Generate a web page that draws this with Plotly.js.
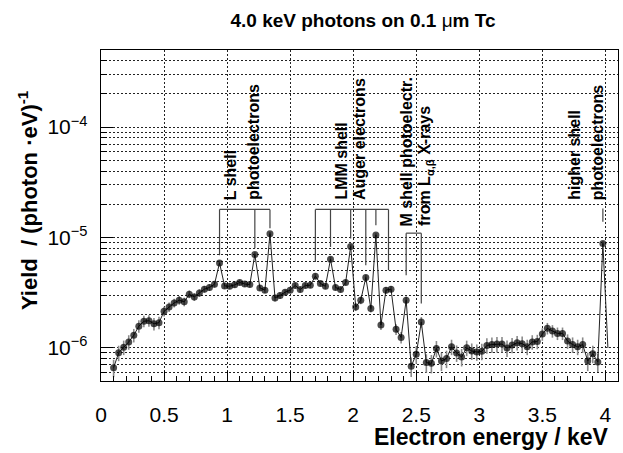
<!DOCTYPE html>
<html>
<head>
<meta charset="utf-8">
<script src="https://cdn.plot.ly/plotly-3.0.1.min.js"></script>
<style>html,body{margin:0;padding:0;background:#fff;}#chart{width:623px;height:453px;}</style>
</head>
<body>
<div id="chart"></div>
<script>
// Bin centres (keV)
const energy = [
  0.10,0.14,0.18,0.22,0.26,0.30,0.34,0.38,0.42,0.46,
  0.50,0.54,0.58,0.62,0.66,0.70,0.74,0.78,0.82,0.86,
  0.90,0.94,0.98,1.02,1.06,1.10,1.14,1.18,1.22,1.26,
  1.30,1.34,1.38,1.42,1.46,1.50,1.54,1.58,1.62,1.66,
  1.70,1.74,1.78,1.82,1.86,1.90,1.94,1.98,2.02,2.06,
  2.10,2.14,2.18,2.22,2.26,2.30,2.34,2.38,2.42,2.46,
  2.50,2.54,2.58,2.62,2.66,2.70,2.74,2.78,2.82,2.86,
  2.90,2.94,2.98,3.02,3.06,3.10,3.14,3.18,3.22,3.26,
  3.30,3.34,3.38,3.42,3.46,3.50,3.54,3.58,3.62,3.66,
  3.70,3.74,3.78,3.82,3.86,3.90,3.94,3.98,4.02
];
// Yield per (photon eV)
const yieldVals = [
  6.6e-7,9.0e-7,1.01e-6,1.13e-6,1.30e-6,1.57e-6,1.74e-6,1.76e-6,1.65e-6,1.69e-6,
  2.14e-6,2.34e-6,2.55e-6,2.70e-6,2.61e-6,3.06e-6,2.89e-6,3.14e-6,3.40e-6,3.52e-6,
  3.77e-6,5.88e-6,3.64e-6,3.61e-6,3.72e-6,3.91e-6,3.79e-6,3.74e-6,7.01e-6,3.49e-6,
  3.33e-6,1.08e-5,2.83e-6,2.98e-6,3.19e-6,3.33e-6,3.67e-6,3.37e-6,3.67e-6,3.69e-6,
  4.46e-6,3.83e-6,3.61e-6,6.35e-6,3.52e-6,3.37e-6,3.91e-6,8.30e-6,2.34e-6,2.70e-6,
  4.33e-6,2.27e-6,1.05e-5,1.61e-6,3.33e-6,3.40e-6,1.47e-6,1.24e-6,2.70e-6,6.79e-7,
  8.73e-7,1.71e-6,7.34e-7,7.23e-7,9.84e-7,7.59e-7,7.98e-7,1.02e-6,8.97e-7,8.26e-7,
  1.00e-6,9.35e-7,9.16e-7,9.29e-7,1.05e-6,1.07e-6,1.08e-6,1.08e-6,9.96e-7,1.06e-6,
  1.11e-6,1.09e-6,1.02e-6,1.13e-6,1.14e-6,1.33e-6,1.50e-6,1.42e-6,1.35e-6,1.35e-6,
  1.15e-6,1.07e-6,1.02e-6,1.07e-6,7.59e-7,8.85e-7,7.43e-7,8.82e-6,9.96e-7
];
// Relative statistical errors
const relErr = [
  0.18,0.16,0.15,0.15,0.14,0.13,0.12,0.12,0.13,0.13,
  0.10,0.10,0.09,0.09,0.09,0.08,0.08,0.08,0.07,0.07,
  0.07,0.05,0.06,0.06,0.06,0.06,0.06,0.06,0.05,0.06,
  0.06,0.04,0.07,0.07,0.06,0.06,0.06,0.06,0.06,0.06,
  0.06,0.06,0.06,0.05,0.06,0.06,0.06,0.04,0.08,0.08,
  0.06,0.08,0.04,0.10,0.07,0.07,0.11,0.12,0.08,0.20,
  0.18,0.11,0.19,0.19,0.17,0.19,0.18,0.16,0.17,0.18,
  0.16,0.17,0.17,0.17,0.16,0.16,0.16,0.16,0.17,0.16,
  0.15,0.16,0.16,0.15,0.15,0.13,0.12,0.13,0.13,0.13,
  0.15,0.16,0.16,0.16,0.19,0.18,0.19,0.05,0.00
];
const xTickVals = [0,0.5,1,1.5,2,2.5,3,3.5,4];
const xTickText = ['0','0.5','1','1.5','2','2.5','3','3.5','4'];
const yTickVals = [1e-6,1e-5,1e-4];
const yTickText = ['10<sup>\u22126</sup>','10<sup>\u22125</sup>','10<sup>\u22124</sup>'];

// Label groups: text lines, pointer energies, pointer tip values, bracket level
const groups = [
  {lines:['L shell','photoelectrons'], textE:[1.034,1.212], textBase:2.1e-5,
   peaks:[0.94,1.22,1.34], tips:[6.9e-6,8.0e-6,1.21e-5], bracket:1.795e-5},
  {lines:['LMM shell','Auger electrons'], textE:[1.905,2.055], textBase:2.1e-5,
   peaks:[1.70,1.82,1.98,2.10,2.18,2.28], tips:[6.0e-6,8.2e-6,9.8e-6,5.6e-6,1.29e-5,5.05e-6], bracket:1.795e-5},
  {lines:['M shell photoelectr.','from L<sub>\u03b1,\u03b2</sub> X-rays'], textE:[2.424,2.574], textBase:1.21e-5,
   peaks:[2.42,2.54], tips:[4.55e-6,2.52e-6], bracket:1.094e-5},
  {lines:['higher shell','photoelectrons'], textE:[3.758,3.937], textBase:2.1e-5,
   peaks:[3.98], tips:[1.39e-5], bracket:1.83e-5}
];

const L10 = Math.log10;
const n = energy.length;
const FONT = 'Liberation Sans, Arial, sans-serif';
const lineTrace = {
  x: energy, y: yieldVals, type:'scatter', mode:'lines',
  line:{color:'#222', width:1},
  error_y:{type:'data', array: yieldVals.map((v,i)=>v*relErr[i]), color:'#8a8a8a', thickness:1.6, width:0},
  hoverinfo:'skip', showlegend:false
};
const markerTrace = {
  x: energy, y: yieldVals, type:'scatter', mode:'markers',
  marker:{color:'#000', size: energy.map((e,i)=> i===n-1 ? 0 : 7), line:{width:0}},
  showlegend:false
};

const minorY = [];
for (let d=-7; d<=-4; d++) for (let m=2; m<=9; m++) {
  const v = m*Math.pow(10,d);
  if (v>5e-7*0.999 && v<5e-4*1.001) minorY.push(v);
}

const shapes = [];
const annotations = [];
const lineStyle = {color:'#444', width:1.2};
groups.forEach(g=>{
  if (g.peaks.length>1) {
    shapes.push({type:'line', xref:'x', yref:'y', x0:g.peaks[0], x1:g.peaks[g.peaks.length-1],
      y0:g.bracket, y1:g.bracket, line:lineStyle});
  }
  g.peaks.forEach((p,i)=>{
    shapes.push({type:'line', xref:'x', yref:'y', x0:p, x1:p, y0:g.bracket, y1:g.tips[i], line:lineStyle});
  });
  g.lines.forEach((t,i)=>{
    annotations.push({text:'<b>'+t+'</b>', xref:'x', yref:'y', x:g.textE[i], y:L10(g.textBase),
      xanchor:'center', yanchor:'bottom', textangle:-90, showarrow:false,
      font:{family:FONT, size:16, color:'#000'}});
  });
});

// axis titles placed like the original (right/top aligned)
annotations.push({text:'<b>Electron energy / keV</b>', xref:'paper', yref:'paper',
  x:(611-101)/517, y:(381-437)/331, xanchor:'right', yanchor:'middle', showarrow:false,
  font:{family:FONT, size:23, color:'#000'}});
annotations.push({text:'<b>Yield\u00a0 / (photon \u00b7eV)<sup>-1</sup></b>', xref:'paper', yref:'paper',
  x:(28-101)/517, y:(381-88)/331, xanchor:'center', yanchor:'top', textangle:-90, showarrow:false,
  font:{family:FONT, size:22, color:'#000'}});

const gridDash = '2px,2px';
const layout = {
  width:623, height:453,
  margin:{l:101, r:5, t:50, b:72},
  paper_bgcolor:'#fff', plot_bgcolor:'#fff',
  font:{family:FONT, color:'#000'},
  title:{text:'<b>4.0 keV photons on 0.1 </b>\u03bc<b>m Tc</b>', xref:'container', yref:'container',
    x:363/623, y:1-20/453, xanchor:'center', yanchor:'middle',
    font:{family:FONT, size:19, color:'#000'}},
  xaxis:{range:[0,4.1], tickmode:'array', tickvals:xTickVals, ticktext:xTickText,
    ticks:'inside', ticklen:10, tickwidth:1, tickcolor:'#000',
    showgrid:true, gridcolor:'#222', gridwidth:1, griddash:gridDash,
    minor:{dtick:0.1, tick0:0, ticks:'inside', ticklen:5, tickwidth:1, tickcolor:'#000', showgrid:false},
    showline:true, mirror:true, linecolor:'#000', linewidth:1.3, zeroline:false,
    tickfont:{size:21, family:FONT}, ticklabelstandoff:14},
  yaxis:{type:'log', range:[L10(5e-7), L10(5e-4)], tickmode:'array', tickvals:yTickVals, ticktext:yTickText,
    ticks:'inside', ticklen:12, tickwidth:1, tickcolor:'#000',
    showgrid:true, gridcolor:'#222', gridwidth:1, griddash:gridDash,
    minor:{tickmode:'array', tickvals:minorY, ticks:'inside', ticklen:6, tickwidth:1, tickcolor:'#000',
      showgrid:true, gridcolor:'#222', gridwidth:1, griddash:gridDash},
    showline:true, mirror:true, linecolor:'#000', linewidth:1.3, zeroline:false,
    tickfont:{size:21, family:FONT}, ticklabelstandoff:8},
  shapes:shapes,
  annotations:annotations,
  showlegend:false
};
Plotly.newPlot('chart',[lineTrace, markerTrace],layout,{displayModeBar:false, staticPlot:true});
</script>
</body>
</html>
